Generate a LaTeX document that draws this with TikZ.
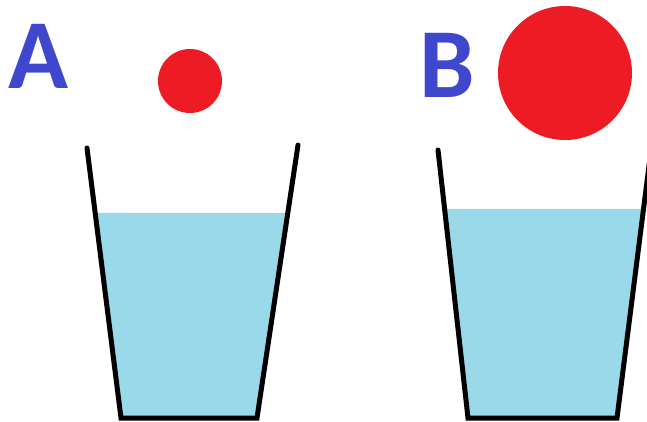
\documentclass[tikz,border=0pt]{standalone}
\usepackage{fontspec}
\setmainfont{Carlito}
\usetikzlibrary{calc}
\definecolor{paintblue}{HTML}{3F48CC}
\definecolor{paintred}{HTML}{ED1C24}
\definecolor{water}{HTML}{99D9EA}
\tikzset{
  cupline/.style={line width=5pt, line cap=round, line join=miter},
  ball/.style={fill=paintred, draw=none},
  letter/.style={text=paintblue, inner sep=0pt, anchor=base west, font=\bfseries\fontsize{99}{99}\selectfont},
}
\begin{document}
\begin{tikzpicture}[x=1pt,y=-1pt]
\useasboundingbox (0,0) rectangle (647,421);
\clip (0,0) rectangle (647,421);
% cup A
\coordinate (atl) at (87,148);
\coordinate (abl) at (121,418);
\coordinate (abr) at (257,418);
\coordinate (atr) at (298,145);
\fill[water] ($(atl)!0.2407!(abl)$) -- (abl) -- (abr) -- ($(atr)!0.2491!(abr)$) -- cycle;
\draw[cupline] (atl) -- (abl) -- (abr) -- (atr);
% cup B
\coordinate (btl) at (438,150);
\coordinate (bbl) at (468,418);
\coordinate (bbr) at (617,418);
\coordinate (btr) at (651,150);
\fill[water] ($(btl)!0.2201!(bbl)$) -- (bbl) -- (bbr) -- ($(btr)!0.2201!(bbr)$) -- cycle;
\draw[cupline] (btl) -- (bbl) -- (bbr) -- (btr);
% balls
\fill[ball] (190,81) circle (32);
\fill[ball] (565,73) circle (67);
% letters
\node[letter] (la) at (8,88) {A};
\node[letter] (lb) at (419,97) {B};
\end{tikzpicture}
\end{document}
